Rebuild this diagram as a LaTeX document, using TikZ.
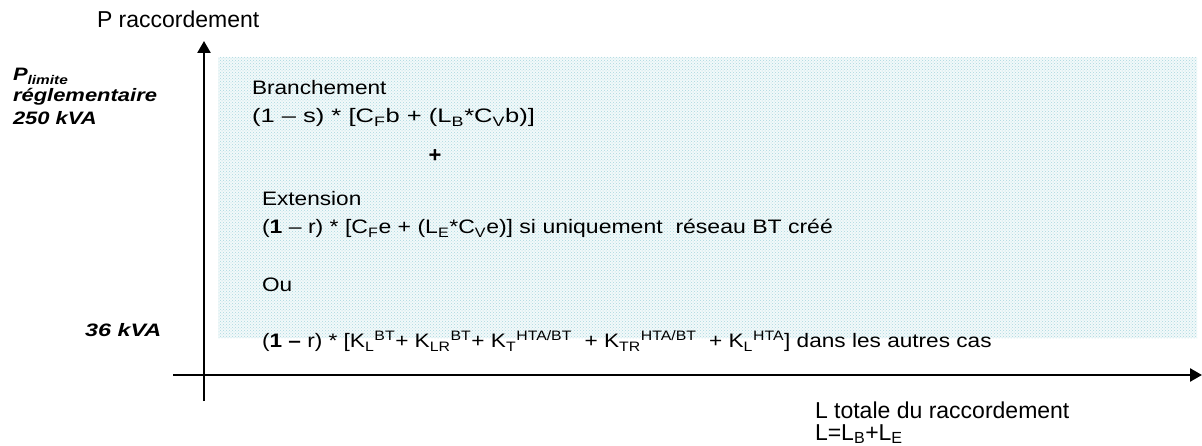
\documentclass[tikz,border=0pt]{standalone}
\usepackage{fontspec}
\setmainfont{Liberation Sans}
\usetikzlibrary{patterns,arrows.meta}

% horizontal stretch of a piece of text
\newcommand{\hstretch}[2]{\scalebox{#1}[1]{#2}}
\newcommand{\sub}[1]{\textsubscript{#1}}
\newcommand{\sups}[1]{\textsuperscript{#1}}

\definecolor{zonebg}{RGB}{242,249,250}
\definecolor{zonedot}{RGB}{170,216,222}

\begin{document}
\begin{tikzpicture}[x=1pt,y=-1pt,
  axis/.style={line width=2.5pt,-{Triangle[length=12pt,width=13pt]}},
  lbl/.style={anchor=base west,inner sep=0pt,outer sep=0pt},
  title/.style={lbl,font=\fontsize{23}{27}\selectfont},
  side/.style={lbl,font=\fontsize{18}{21}\selectfont\bfseries\itshape},
  formula/.style={lbl,font=\fontsize{19.5}{23}\selectfont},
]
\useasboundingbox (0,0) rectangle (1202,446);

% domain of the connection cost formulas
\fill[preaction={fill=zonebg},pattern=crosshatch dots,pattern color=zonedot]
  (218,57) rectangle (1197,338);

% axes
\coordinate (ybot) at (204,401);
\coordinate (ytop) at (204,41);
\coordinate (xleft) at (173,375);
\coordinate (xright) at (1202,375);
\draw[axis] (ybot) -- (ytop);
\draw[axis] (xleft) -- (xright);

% axis titles
\node[title] (ptitle) at (97,28) {P raccordement};
\node[title] (ltitle) at (815,418) {L totale du raccordement};
\node[title] (lsum) at (815,440) {L=L\sub{B}+L\sub{E}};

% power levels
\node[side] (plim) at (13,81) {\hstretch{1.22}{P\sub{limite}}};
\node[side] (preg) at (13,102) {\hstretch{1.22}{réglementaire}};
\node[side] (p250) at (13,125) {\hstretch{1.22}{250 kVA}};
\node[side] (p36) at (85,337) {\hstretch{1.3}{36 kVA}};

% cost formulas
\node[formula] (bra) at (252,95) {\hstretch{1.16}{Branchement}};
\node[formula] (braf) at (252,123) {\hstretch{1.31}{(1 – s) * [C\sub{F}b + (L\sub{B}*C\sub{V}b)]}};
\node[formula,anchor=center,font=\fontsize{22}{24}\selectfont\bfseries] (plus) at (435,156) {+};
\node[formula] (ext) at (262,206) {\hstretch{1.16}{Extension}};
\node[formula] (extf) at (262,234) {\hstretch{1.18}{(\textbf{1} – r) * [C\sub{F}e + (L\sub{E}*C\sub{V}e)] si uniquement\ \ réseau BT créé}};
\node[formula] (ou) at (262,292) {\hstretch{1.16}{Ou}};
\node[formula] (autre) at (262,348) {\hstretch{1.16}{(\textbf{1 –} r) * [K\sub{L}\sups{BT}+ K\sub{LR}\sups{BT}+ K\sub{T}\sups{HTA/BT}\ \ + K\sub{TR}\sups{HTA/BT}\ \ + K\sub{L}\sups{HTA}] dans les autres cas}};
\end{tikzpicture}
\end{document}
